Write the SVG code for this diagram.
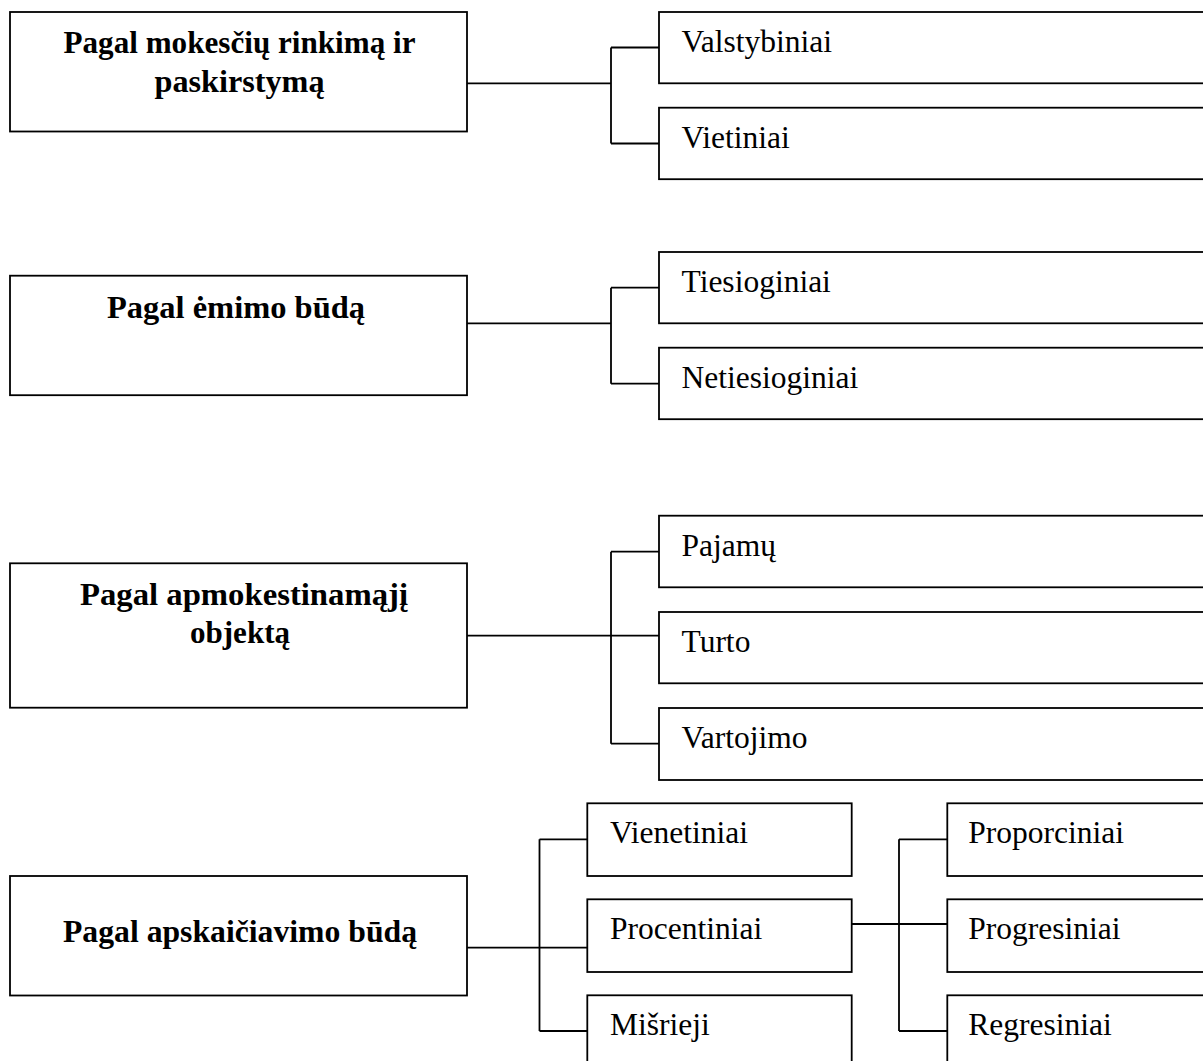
<svg xmlns="http://www.w3.org/2000/svg" width="1203" height="1061" viewBox="0 0 1203 1061">
<style>
.box{fill:#fff;stroke:#000;stroke-width:1.8}
.ln{fill:none;stroke:#000;stroke-width:1.8}
.h{font-family:"Liberation Serif","Times New Roman",serif;font-weight:bold;font-size:32px;text-anchor:middle;fill:#000}
.t{font-family:"Liberation Serif","Times New Roman",serif;font-size:31.5px;fill:#000}
</style>
<rect width="1203" height="1061" fill="#fff"/>
<g id="connectors">
<path class="ln" d="M467,83.3 H611 M611,47.5 V143.5 M611,47.5 H659 M611,143.5 H659"/>
<path class="ln" d="M467,323.3 H611 M611,287.7 V383.7 M611,287.7 H659 M611,383.7 H659"/>
<path class="ln" d="M467,635.7 H659 M611,551.7 V743.7 M611,551.7 H659 M611,743.7 H659"/>
<path class="ln" d="M467,947.7 H587 M539.5,839.3 V1031 M539.5,839.3 H587 M539.5,1031 H587"/>
<path class="ln" d="M852,924 H947 M899,839.3 V1031 M899,839.3 H947 M899,1031 H947"/>
</g>
<g id="n1">
<rect class="box" x="10" y="12" width="457" height="119.5"/>
<text class="h" x="239.5" y="53" textLength="352" lengthAdjust="spacingAndGlyphs">Pagal mokesčių rinkimą ir</text>
<text class="h" x="239.5" y="92" textLength="170" lengthAdjust="spacingAndGlyphs">paskirstymą</text>
</g>
<g id="n1a"><rect class="box" x="659" y="12" width="560" height="71.3"/><text class="t" x="681.5" y="51.7">Valstybiniai</text></g>
<g id="n1b"><rect class="box" x="659" y="107.7" width="560" height="71.5"/><text class="t" x="681.5" y="147.7">Vietiniai</text></g>
<g id="n2">
<rect class="box" x="10" y="275.7" width="457" height="119.5"/>
<text class="h" x="236" y="317.5" textLength="258" lengthAdjust="spacingAndGlyphs">Pagal ėmimo būdą</text>
</g>
<g id="n2a"><rect class="box" x="659" y="252" width="560" height="71.3"/><text class="t" x="681.5" y="291.7">Tiesioginiai</text></g>
<g id="n2b"><rect class="box" x="659" y="347.7" width="560" height="71.5"/><text class="t" x="681.5" y="387.7">Netiesioginiai</text></g>
<g id="n3">
<rect class="box" x="10" y="563.3" width="457" height="144.4"/>
<text class="h" x="244" y="604.5" textLength="328" lengthAdjust="spacingAndGlyphs">Pagal apmokestinamąjį</text>
<text class="h" x="240" y="643" textLength="100" lengthAdjust="spacingAndGlyphs">objektą</text>
</g>
<g id="n3a"><rect class="box" x="659" y="515.7" width="560" height="71.6"/><text class="t" x="681.5" y="555.7">Pajamų</text></g>
<g id="n3b"><rect class="box" x="659" y="612" width="560" height="71.3"/><text class="t" x="681.5" y="652">Turto</text></g>
<g id="n3c"><rect class="box" x="659" y="708" width="560" height="72"/><text class="t" x="681.5" y="748">Vartojimo</text></g>
<g id="n4">
<rect class="box" x="10" y="876" width="457" height="119.5"/>
<text class="h" x="240" y="942" textLength="354" lengthAdjust="spacingAndGlyphs">Pagal apskaičiavimo būdą</text>
</g>
<g id="n4a"><rect class="box" x="587.3" y="803.3" width="264.4" height="72.7"/><text class="t" x="610" y="843.3">Vienetiniai</text></g>
<g id="n4b"><rect class="box" x="587.3" y="899.3" width="264.4" height="72.7"/><text class="t" x="610" y="939.3">Procentiniai</text></g>
<g id="n4c"><rect class="box" x="587.3" y="995.3" width="264.4" height="80"/><text class="t" x="610" y="1035.3">Mišrieji</text></g>
<g id="n4d"><rect class="box" x="947.3" y="803.3" width="270" height="72.7"/><text class="t" x="968.3" y="843.3">Proporciniai</text></g>
<g id="n4e"><rect class="box" x="947.3" y="899.3" width="270" height="72.7"/><text class="t" x="968.3" y="939.3">Progresiniai</text></g>
<g id="n4f"><rect class="box" x="947.3" y="995.3" width="270" height="80"/><text class="t" x="968.3" y="1035.3">Regresiniai</text></g>
</svg>
